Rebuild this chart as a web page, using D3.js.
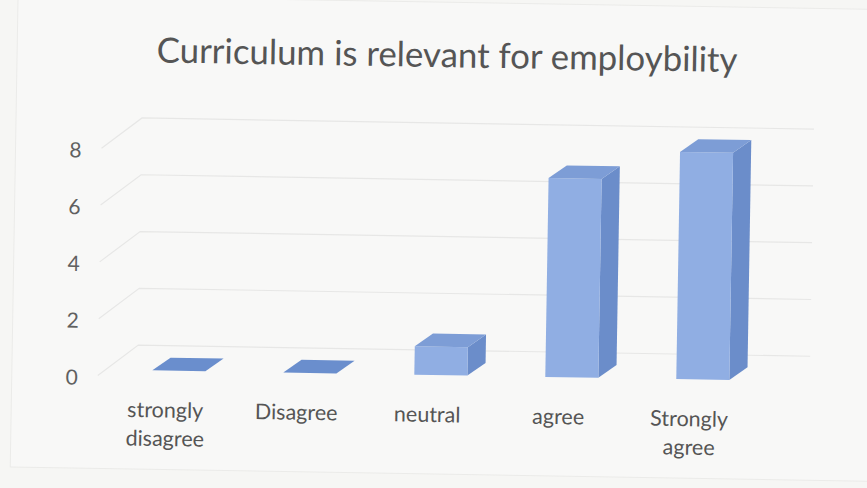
<!DOCTYPE html>
<html>
<head>
<meta charset="utf-8">
<script src="https://cdn.jsdelivr.net/npm/d3@7"></script>
<style>
  html, body { margin: 0; padding: 0; background: #f6f6f4; }
  svg { display: block; }
  text { font-family: Lato, "Open Sans", sans-serif; fill: #555555; }
</style>
</head>
<body>
<svg id="chart" width="867" height="488"></svg>
<script>
// ---- data ----
const categories = ["strongly disagree", "Disagree", "neutral", "agree", "Strongly agree"];
const labelLines = [["strongly", "disagree"], ["Disagree"], ["neutral"], ["agree"], ["Strongly", "agree"]];
const values = [0, 0, 1, 7, 8];
const yTicks = [0, 2, 4, 6, 8];
const title = "Curriculum is relevant for employbility";

// ---- layout ----
const W = 867, H = 488;
const svg = d3.select("#chart");
svg.append("rect").attr("width", W).attr("height", H).attr("fill", "#f6f6f4");

// whole scan is slightly tilted
const root = svg.append("g").attr("transform", "rotate(0.95 433 244)");

// faint chart border
root.append("rect").attr("x", 14).attr("y", 2).attr("width", 880).attr("height", 472)
  .attr("fill", "#f8f8f7").attr("stroke", "#ebebe9").attr("stroke-width", 1);

const x = d3.scaleBand().domain(categories).range([102.5, 757.5]).paddingInner(0);
const y = d3.scaleLinear().domain([0, 8]).range([381, 153.8]);

const wallDx = 40, wallDy = -31;     // depth of the floor / side wall
const wallLeft = 100, wallRight = 812;
const barOffX = 13, barOffY = -6;    // bar front plane relative to axis plane
const barDx = 18, barDy = -13;       // bar depth
const barW = x.step() * 0.405;

// gridlines (side-wall diagonal + back-wall horizontal)
const grid = root.append("g").attr("fill", "none").attr("stroke", "#e7e7e6").attr("stroke-width", 1.2);
yTicks.forEach(t => {
  const y0 = y(t);
  grid.append("path").attr("d",
    `M${wallLeft},${y0} L${wallLeft + wallDx},${y0 + wallDy} L${wallRight},${y0 + wallDy}`);
});

// tick labels
root.append("g").selectAll("text").data(yTicks).join("text")
  .attr("x", 74).attr("y", d => y(d) + 1)
  .attr("text-anchor", "middle").attr("dominant-baseline", "central")
  .attr("font-size", 21).style("fill", "#606060").text(d => d);

// bars
const bars = root.append("g").selectAll("g").data(values.map((v, i) => ({ c: categories[i], v })))
  .join("g");
bars.each(function (d) {
  const g = d3.select(this);
  const x0 = x(d.c) + x.bandwidth() / 2 + barOffX - barW / 2;
  const x1 = x0 + barW;
  const yb = y(0) + barOffY;
  const yt = y(d.v) + barOffY;
  // side face
  g.append("path").attr("d",
    `M${x1},${yb} L${x1 + barDx},${yb + barDy} L${x1 + barDx},${yt + barDy} L${x1},${yt} Z`)
    .attr("fill", "#6b8dca");
  // front face
  g.append("path").attr("d", `M${x0},${yb} L${x1},${yb} L${x1},${yt} L${x0},${yt} Z`)
    .attr("fill", "#90aee3");
  // top face
  g.append("path").attr("d",
    `M${x0},${yt} L${x1},${yt} L${x1 + barDx},${yt + barDy} L${x0 + barDx},${yt + barDy} Z`)
    .attr("fill", d.v === 0 ? "#6a8ecd" : "#7d9dd6");
});

// category labels
const lab = root.append("g").selectAll("text").data(categories).join("text")
  .attr("text-anchor", "middle").attr("font-size", 21.5)
  .attr("transform", d => `translate(${x(d) + x.bandwidth() / 2},422)`);
lab.each(function (d, i) {
  const t = d3.select(this);
  labelLines[i].forEach((line, j) => {
    t.append("tspan").attr("x", 0).attr("dy", j === 0 ? 0 : 28.5).text(line);
  });
});

// title
const tt = root.append("text").attr("x", 444).attr("y", 67)
  .attr("text-anchor", "middle").attr("font-size", 30).text(title);
const len = tt.node().getComputedTextLength();
tt.attr("font-size", 30 * 581 / len);
</script>
</body>
</html>
